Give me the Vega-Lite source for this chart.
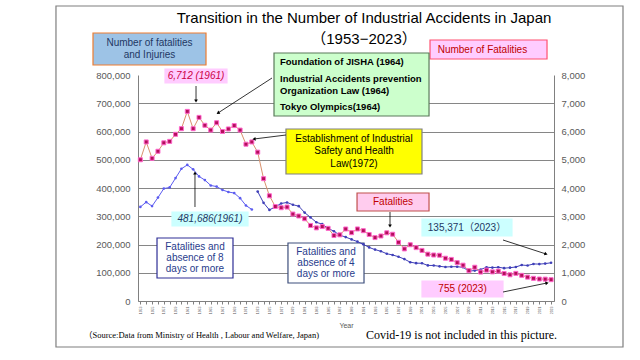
{
"$schema": "https://vega.github.io/schema/vega-lite/v6.json",
"width": 416, "height": 226,
"autosize": "none",
"padding": {"left": 138, "top": 75, "right": 86, "bottom": 59},
"background": "white",
"config": {"view": {"stroke": null}, "font": "Liberation Sans"},
"datasets": {
"injury": [
{"year":1953,"v":333000,"period":"8days"},{"year":1954,"v":350000,"period":"8days"},{"year":1955,"v":336000,"period":"8days"},{"year":1956,"v":366000,"period":"8days"},{"year":1957,"v":398000,"period":"8days"},{"year":1958,"v":402000,"period":"8days"},{"year":1959,"v":435000,"period":"8days"},{"year":1960,"v":468000,"period":"8days"},{"year":1961,"v":481686,"period":"8days"},{"year":1962,"v":466000,"period":"8days"},{"year":1963,"v":441000,"period":"8days"},{"year":1964,"v":428000,"period":"8days"},{"year":1965,"v":409000,"period":"8days"},{"year":1966,"v":405000,"period":"8days"},{"year":1967,"v":393000,"period":"8days"},{"year":1968,"v":386000,"period":"8days"},{"year":1969,"v":382000,"period":"8days"},{"year":1970,"v":364000,"period":"8days"},{"year":1971,"v":338000,"period":"8days"},{"year":1972,"v":324000,"period":"8days"},
{"year":1973,"v":387342,"period":"4days"},{"year":1974,"v":347407,"period":"4days"},{"year":1975,"v":322322,"period":"4days"},{"year":1976,"v":333311,"period":"4days"},{"year":1977,"v":345293,"period":"4days"},{"year":1978,"v":348826,"period":"4days"},{"year":1979,"v":340731,"period":"4days"},{"year":1980,"v":335706,"period":"4days"},{"year":1981,"v":312844,"period":"4days"},{"year":1982,"v":296000,"period":"4days"},{"year":1983,"v":278623,"period":"4days"},{"year":1984,"v":271884,"period":"4days"},{"year":1985,"v":257240,"period":"4days"},{"year":1986,"v":246891,"period":"4days"},{"year":1987,"v":232953,"period":"4days"},{"year":1988,"v":226318,"period":"4days"},{"year":1989,"v":217964,"period":"4days"},{"year":1990,"v":210108,"period":"4days"},{"year":1991,"v":200633,"period":"4days"},{"year":1992,"v":189589,"period":"4days"},{"year":1993,"v":181900,"period":"4days"},{"year":1994,"v":176047,"period":"4days"},{"year":1995,"v":167316,"period":"4days"},{"year":1996,"v":162862,"period":"4days"},{"year":1997,"v":156726,"period":"4days"},{"year":1998,"v":148248,"period":"4days"},{"year":1999,"v":137316,"period":"4days"},{"year":2000,"v":133948,"period":"4days"},{"year":2001,"v":133598,"period":"4days"},{"year":2002,"v":125918,"period":"4days"},{"year":2003,"v":125750,"period":"4days"},{"year":2004,"v":122804,"period":"4days"},{"year":2005,"v":120354,"period":"4days"},{"year":2006,"v":121378,"period":"4days"},{"year":2007,"v":121356,"period":"4days"},{"year":2008,"v":119291,"period":"4days"},{"year":2009,"v":105718,"period":"4days"},{"year":2010,"v":107759,"period":"4days"},{"year":2011,"v":111349,"period":"4days"},{"year":2012,"v":119576,"period":"4days"},{"year":2013,"v":118157,"period":"4days"},{"year":2014,"v":119535,"period":"4days"},{"year":2015,"v":116311,"period":"4days"},{"year":2016,"v":117910,"period":"4days"},{"year":2017,"v":120460,"period":"4days"},{"year":2018,"v":127329,"period":"4days"},{"year":2019,"v":125611,"period":"4days"},{"year":2020,"v":131156,"period":"4days"},{"year":2021,"v":130586,"period":"4days"},{"year":2022,"v":132355,"period":"4days"},{"year":2023,"v":135371,"period":"4days"}
],
"fatal": [
{"year":1953,"f":5000},{"year":1954,"f":5630},{"year":1955,"f":5050},{"year":1956,"f":5300},{"year":1957,"f":5600},{"year":1958,"f":5650},{"year":1959,"f":5900},{"year":1960,"f":6100},{"year":1961,"f":6712},{"year":1962,"f":6100},{"year":1963,"f":6500},{"year":1964,"f":6220},{"year":1965,"f":6050},{"year":1966,"f":6310},{"year":1967,"f":6000},{"year":1968,"f":6090},{"year":1969,"f":6210},{"year":1970,"f":6050},{"year":1971,"f":5550},{"year":1972,"f":5630},{"year":1973,"f":5269},{"year":1974,"f":4330},{"year":1975,"f":3725},{"year":1976,"f":3345},{"year":1977,"f":3302},{"year":1978,"f":3326},{"year":1979,"f":3077},{"year":1980,"f":3009},{"year":1981,"f":2912},{"year":1982,"f":2674},{"year":1983,"f":2588},{"year":1984,"f":2635},{"year":1985,"f":2572},{"year":1986,"f":2318},{"year":1987,"f":2342},{"year":1988,"f":2549},{"year":1989,"f":2419},{"year":1990,"f":2550},{"year":1991,"f":2489},{"year":1992,"f":2354},{"year":1993,"f":2245},{"year":1994,"f":2301},{"year":1995,"f":2414},{"year":1996,"f":2363},{"year":1997,"f":2078},{"year":1998,"f":1844},{"year":1999,"f":1992},{"year":2000,"f":1889},{"year":2001,"f":1790},{"year":2002,"f":1658},{"year":2003,"f":1628},{"year":2004,"f":1620},{"year":2005,"f":1514},{"year":2006,"f":1472},{"year":2007,"f":1357},{"year":2008,"f":1268},{"year":2009,"f":1075},{"year":2010,"f":1195},{"year":2011,"f":1024},{"year":2012,"f":1093},{"year":2013,"f":1030},{"year":2014,"f":1057},{"year":2015,"f":972},{"year":2016,"f":928},{"year":2017,"f":978},{"year":2018,"f":909},{"year":2019,"f":845},{"year":2020,"f":802},{"year":2021,"f":778},{"year":2022,"f":774},{"year":2023,"f":755}
],
"boxes": [
{"kind":"blueHdr","year":1944.93,"year2":1964.19,"v":835398,"v2":948672},
{"kind":"pinkHdr","year":2002.37,"year2":2022.31,"v":856636,"v2":923893},
{"kind":"pink","year":1957.2,"year2":1967.77,"v":771681,"v2":821238},
{"kind":"green","year":1975.78,"year2":2002.2,"v":654867,"v2":877875},
{"kind":"yellow","year":1977.82,"year2":2001.0,"v":449557,"v2":608849},
{"kind":"fatal","year":1989.93,"year2":2002.2,"v":318584,"v2":382301},
{"kind":"cyan","year":1958.39,"year2":1971.35,"v":265487,"v2":315044},
{"kind":"navy8","year":1955.84,"year2":1968.79,"v":81416,"v2":223009},
{"kind":"slate4","year":1978.16,"year2":1991.12,"v":63717,"v2":205310},
{"kind":"cyan","year":2001.0,"year2":2016.34,"v":230088,"v2":290265},
{"kind":"pink","year":2001.0,"year2":2014.81,"v":14159,"v2":70796}
],
"frame": [
{"year":1938.62,"year2":2035.26,"v":-162832,"v2":1044247}
],
"arrows": [
{"year":1962.49,"v":707964,"year2":1962.49,"v2":761061},
{"year":1966.23,"v":665486,"year2":1975.44,"v2":789380},
{"year":1972.37,"v":573451,"year2":1977.82,"v2":587610},
{"year":1995.55,"v":265487,"year2":1995.55,"v2":315044},
{"year":1962.31,"v":453097,"year2":1962.31,"v2":332743},
{"year":2022.14,"v":166372,"year2":2014.81,"v2":215929},
{"year":2022.31,"v":63717,"year2":2014.81,"v2":31858}
],
"texts": [
{"grp":"title","kind":"black","year":1991.12,"v":1001769,"text":"Transition in the Number of Industrial Accidents in Japan"},
{"grp":"title","kind":"black","year":1991.12,"v":927433,"text":"（1953−2023）"},
{"grp":"reg","kind":"blue","year":1954.56,"v":913274,"text":"Number of fatalities"},
{"grp":"reg","kind":"blue","year":1954.56,"v":870796,"text":"and Injuries"},
{"grp":"reg","kind":"red","year":2011.3,"v":890265,"text":"Number of Fatalities"},
{"grp":"reg","kind":"black","year":1989.41,"v":574513,"text":"Establishment of Industrial"},
{"grp":"reg","kind":"black","year":1989.41,"v":532035,"text":"Safety and Health"},
{"grp":"reg","kind":"black","year":1989.41,"v":484955,"text":"Law(1972)"},
{"grp":"reg","kind":"red","year":1996.06,"v":350442,"text":"Fatalities"},
{"grp":"reg","kind":"red","year":2007.91,"v":42478,"text":"755 (2023)"},
{"grp":"reg","kind":"blue","year":2008.67,"v":260177,"text":"135,371（2023）"},
{"grp":"reg","kind":"navy","year":1962.31,"v":191150,"text":"Fatalities and"},
{"grp":"reg","kind":"navy","year":1962.31,"v":152212,"text":"absence of 8"},
{"grp":"reg","kind":"navy","year":1962.31,"v":113274,"text":"days or more"},
{"grp":"reg","kind":"navy","year":1984.64,"v":173451,"text":"Fatalities and"},
{"grp":"reg","kind":"navy","year":1984.64,"v":134513,"text":"absence of 4"},
{"grp":"reg","kind":"navy","year":1984.64,"v":95575,"text":"days or more"},
{"grp":"bold","kind":"black","year":1976.8,"v":846017,"text":"Foundation of JISHA (1964)"},
{"grp":"bold","kind":"black","year":1976.8,"v":785840,"text":"Industrial Accidents prevention"},
{"grp":"bold","kind":"black","year":1976.8,"v":745132,"text":"Organization Law (1964)"},
{"grp":"bold","kind":"black","year":1976.8,"v":686725,"text":"Tokyo Olympics(1964)"},
{"grp":"ital","kind":"crim","year":1962.49,"v":796460,"text":"6,712 (1961)"},
{"grp":"ital","kind":"blue","year":1964.87,"v":290265,"text":"481,686(1961)"},
{"grp":"src","kind":"black","year":1943.4,"v":-120354,"text":"（Source:Data from Ministry  of Health , Labour and Welfare, Japan)"},
{"grp":"covid","kind":"black","year":1991.46,"v":-120354,"text":"Covid-19 is not included in this picture."}
]
},
"encoding": {
"x": {"field": "year", "type": "quantitative", "scale": {"domain": [1952.6, 2023.5], "nice": false, "zero": false},
"axis": {"title": "Year", "values": [1953,1954,1955,1956,1957,1958,1959,1960,1961,1962,1963,1964,1965,1966,1967,1968,1969,1970,1971,1972,1973,1974,1975,1976,1977,1978,1979,1980,1981,1982,1983,1984,1985,1986,1987,1988,1989,1990,1991,1992,1993,1994,1995,1996,1997,1998,1999,2000,2001,2002,2003,2004,2005,2006,2007,2008,2009,2010,2011,2012,2013,2014,2015,2016,2017,2018,2019,2020,2021,2022,2023],
"format": "d", "labelExpr": "datum.value % 2 == 1 ? datum.label : ''", "labelAngle": 270, "labelAlign": "right", "labelBaseline": "middle", "labelFontSize": 3.5, "labelColor": "#595959", "labelPadding": 2, "labelOverlap": false, "labelFlush": false, "labelBound": false,
"grid": false, "ticks": true, "tickSize": 3, "tickColor": "#808080", "domain": true, "domainColor": "#808080", "domainWidth": 1,
"titleFontSize": 7, "titleFontWeight": "normal", "titleColor": "#595959", "titlePadding": 8}}
},
"layer": [
{"data": {"name": "frame"}, "mark": {"type": "rect", "filled": false, "fillOpacity": 0, "stroke": "#7F7F7F", "strokeWidth": 1.2},
"encoding": {"x2": {"field": "year2"},
"y": {"field": "v", "type": "quantitative", "scale": {"domain": [0, 800000], "nice": false, "zero": false}, "axis": null}, "y2": {"field": "v2"}}},
{"data": {"name": "boxes"}, "mark": {"type": "rect", "strokeWidth": 1.2},
"encoding": {"x2": {"field": "year2"},
"y": {"field": "v", "type": "quantitative", "scale": {"domain": [0, 800000], "nice": false, "zero": false}, "axis": null}, "y2": {"field": "v2"},
"fill": {"field": "kind", "type": "nominal", "legend": null, "scale": {"domain": ["blueHdr","pinkHdr","pink","green","yellow","fatal","cyan","navy8","slate4"], "range": ["#9DC3E6","#FFCCFF","#FFCCFF","#CCFFCC","#FFFF00","#FFCCEE","#CCFFFF","#FFFFFF","#FFFFFF"]}},
"stroke": {"field": "kind", "type": "nominal", "legend": null, "scale": {"domain": ["blueHdr","pinkHdr","pink","green","yellow","fatal","cyan","navy8","slate4"], "range": ["#ED7D31","#FF5070","#FFCCFF","#5A7A5A","#808080","#C0504D","#CCFFFF","#2E2E96","#3D4F7C"]}}}},
{"data": {"name": "injury"}, "mark": {"type": "line", "strokeWidth": 1},
"encoding": {
"y": {"field": "v", "type": "quantitative", "scale": {"domain": [0, 800000], "nice": false, "zero": false},
"axis": {"values": [0,100000,200000,300000,400000,500000,600000,700000,800000], "labelExpr": "format(datum.value, ',')", "labelFontSize": 9.5, "labelColor": "#595959", "labelPadding": 8, "ticks": false, "domain": true, "domainColor": "#808080", "domainWidth": 1, "grid": true, "gridColor": "#868686", "gridOpacity": {"condition": {"test": "datum.value >= 800000", "value": 0}, "value": 1}, "title": null}},
"color": {"field": "period", "type": "nominal", "legend": null, "scale": {"domain": ["8days","4days"], "range": ["#5B5BF0","#3F3FB8"]}}}},
{"data": {"name": "injury"}, "mark": {"type": "point", "filled": true, "size": 7, "shape": "circle", "opacity": 1},
"encoding": {
"y": {"field": "v", "type": "quantitative", "scale": {"domain": [0, 800000], "nice": false, "zero": false}, "axis": null},
"color": {"field": "period", "type": "nominal", "legend": null, "scale": {"domain": ["8days","4days"], "range": ["#5B5BF0","#3F3FB8"]}}}},
{"data": {"name": "fatal"}, "mark": {"type": "line", "color": "#D9916D", "strokeWidth": 1},
"encoding": {
"y": {"field": "f", "type": "quantitative", "scale": {"domain": [0, 8000], "nice": false, "zero": false},
"axis": {"orient": "right", "values": [0,1000,2000,3000,4000,5000,6000,7000,8000], "labelExpr": "format(datum.value, ',')", "labelFontSize": 9.5, "labelColor": "#595959", "labelPadding": 7, "ticks": false, "domain": true, "domainColor": "#808080", "domainWidth": 1, "grid": false, "title": null}}}},
{"data": {"name": "fatal"}, "mark": {"type": "point", "shape": "square", "filled": true, "fill": "#B3105A", "stroke": "#FF66CC", "strokeWidth": 1, "size": 16, "opacity": 1},
"encoding": {
"y": {"field": "f", "type": "quantitative", "scale": {"domain": [0, 8000], "nice": false, "zero": false}, "axis": null}}},
{"data": {"name": "arrows"}, "mark": {"type": "rule", "color": "black", "strokeWidth": 0.8},
"encoding": {"x2": {"field": "year2"},
"y": {"field": "v", "type": "quantitative", "scale": {"domain": [0, 800000], "nice": false, "zero": false}, "axis": null}, "y2": {"field": "v2"}}},
{"data": {"name": "arrows"},
"transform": [{"calculate": "atan2((datum.year-datum.year2)*5.8674,(datum.v-datum.v2)/3539.82)*180/PI", "as": "ang"}],
"mark": {"type": "point", "shape": "triangle-up", "filled": true, "color": "black", "size": 14, "opacity": 1},
"encoding": {
"y": {"field": "v", "type": "quantitative", "scale": {"domain": [0, 800000], "nice": false, "zero": false}, "axis": null},
"angle": {"field": "ang", "type": "quantitative", "scale": null}}},
{"data": {"name": "texts"}, "transform": [{"filter": "datum.grp == 'title'"}],
"mark": {"type": "text", "fontSize": 15, "font": "Liberation Sans, Noto Sans CJK JP", "align": "center", "baseline": "middle", "color": "black"},
"encoding": {
"y": {"field": "v", "type": "quantitative", "scale": {"domain": [0, 800000], "nice": false, "zero": false}, "axis": null},
"text": {"field": "text"}}},
{"data": {"name": "texts"}, "transform": [{"filter": "datum.grp == 'reg'"}],
"mark": {"type": "text", "fontSize": 10, "font": "Liberation Sans, Noto Sans CJK JP", "align": "center", "baseline": "middle"},
"encoding": {
"y": {"field": "v", "type": "quantitative", "scale": {"domain": [0, 800000], "nice": false, "zero": false}, "axis": null},
"text": {"field": "text"},
"color": {"field": "kind", "type": "nominal", "legend": null, "scale": {"domain": ["blue","red","black","navy"], "range": ["#1F3864","#C00000","#000000","#283C8C"]}}}},
{"data": {"name": "texts"}, "transform": [{"filter": "datum.grp == 'bold'"}],
"mark": {"type": "text", "fontSize": 9.5, "fontWeight": "bold", "align": "left", "baseline": "middle", "color": "black"},
"encoding": {
"y": {"field": "v", "type": "quantitative", "scale": {"domain": [0, 800000], "nice": false, "zero": false}, "axis": null},
"text": {"field": "text"}}},
{"data": {"name": "texts"}, "transform": [{"filter": "datum.grp == 'ital'"}],
"mark": {"type": "text", "fontSize": 10, "fontStyle": "italic", "align": "center", "baseline": "middle"},
"encoding": {
"y": {"field": "v", "type": "quantitative", "scale": {"domain": [0, 800000], "nice": false, "zero": false}, "axis": null},
"text": {"field": "text"},
"color": {"field": "kind", "type": "nominal", "legend": null, "scale": {"domain": ["crim","blue"], "range": ["#CC0044","#1F3864"]}}}},
{"data": {"name": "texts"}, "transform": [{"filter": "datum.grp == 'src'"}],
"mark": {"type": "text", "fontSize": 8.5, "font": "Liberation Serif, Noto Sans CJK JP", "align": "left", "baseline": "middle", "color": "black"},
"encoding": {
"y": {"field": "v", "type": "quantitative", "scale": {"domain": [0, 800000], "nice": false, "zero": false}, "axis": null},
"text": {"field": "text"}}},
{"data": {"name": "texts"}, "transform": [{"filter": "datum.grp == 'covid'"}],
"mark": {"type": "text", "fontSize": 12, "font": "Liberation Serif", "align": "left", "baseline": "middle", "color": "black"},
"encoding": {
"y": {"field": "v", "type": "quantitative", "scale": {"domain": [0, 800000], "nice": false, "zero": false}, "axis": null},
"text": {"field": "text"}}}
],
"resolve": {"scale": {"y": "independent", "color": "independent", "fill": "independent", "stroke": "independent"}}
}
